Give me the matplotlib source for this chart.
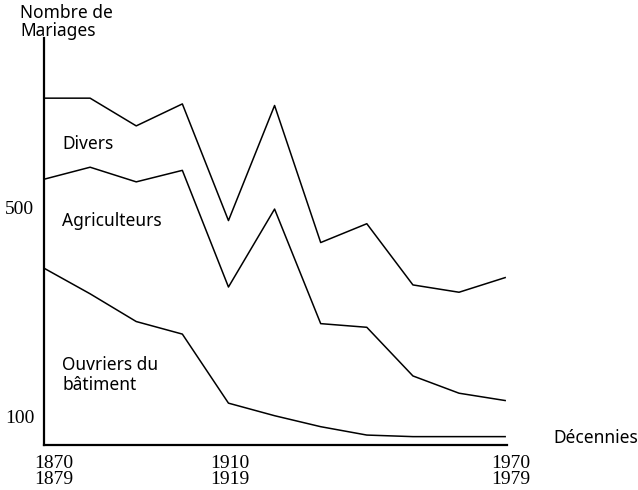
import matplotlib.pyplot as plt

plt.rcParams['font.family'] = ['DejaVu Sans']

decennies = [1870, 1880, 1890, 1900, 1910, 1920, 1930, 1940, 1950, 1960, 1970]

# courbes cumulées (ouvriers, + agriculteurs, + divers)
divers = [712, 712, 659, 701, 478, 698, 436, 472, 355, 341, 369]
agriculteurs = [557, 580, 552, 574, 351, 500, 281, 274, 181, 148, 134]
ouvriers = [387, 338, 285, 261, 129, 105, 84, 68, 65, 65, 65]

fig = plt.figure(figsize=(6.38, 4.90), dpi=100)
ax = fig.add_axes([44 / 638, 1 - 445 / 490, 463 / 638, 407 / 490])

for serie in (divers, agriculteurs, ouvriers):
    ax.plot(decennies, serie, color='black', lw=1.1)

ax.set_xlim(1870, 1970.4)
ax.set_ylim(49, 827)

for s in ('top', 'right'):
    ax.spines[s].set_visible(False)
ax.spines['left'].set_linewidth(1.6)
ax.spines['bottom'].set_linewidth(1.6)
ax.set_xticks([])
ax.set_yticks([])

txt = dict(fontsize=12.5, family='Noto Sans', color='black')
ax.text(1874, 625, "Divers", va='center', **txt)
ax.text(1874, 478, "Agriculteurs", va='center', **txt)
ax.text(1874, 183, "Ouvriers du\nbâtiment", va='center', linespacing=1.1, **txt)

# graduations
num = dict(fontsize=14, family='Liberation Serif', color='black')
for v in (500, 100):
    ax.annotate(str(v), (0, v), xycoords=('axes fraction', 'data'),
                xytext=(-7, 0), textcoords='offset points', ha='right', va='center', **num)
for an, dx in ((1870, 7), (1910, 1), (1970, 4)):
    ax.annotate(f"{an}\n{an + 9}", (an, 0), xycoords=('data', 'axes fraction'),
                xytext=(dx, -7), textcoords='offset points', ha='center', va='top',
                linespacing=0.95, **num)

fig.text(20 / 638, 1 - 22 / 490, "Nombre de\nMariages", ha='left', va='center',
         linespacing=1.05, **txt)
fig.text(553 / 638, 1 - 438 / 490, "Décennies", ha='left', va='center', **txt)

fig.savefig('out.png', dpi=100)
